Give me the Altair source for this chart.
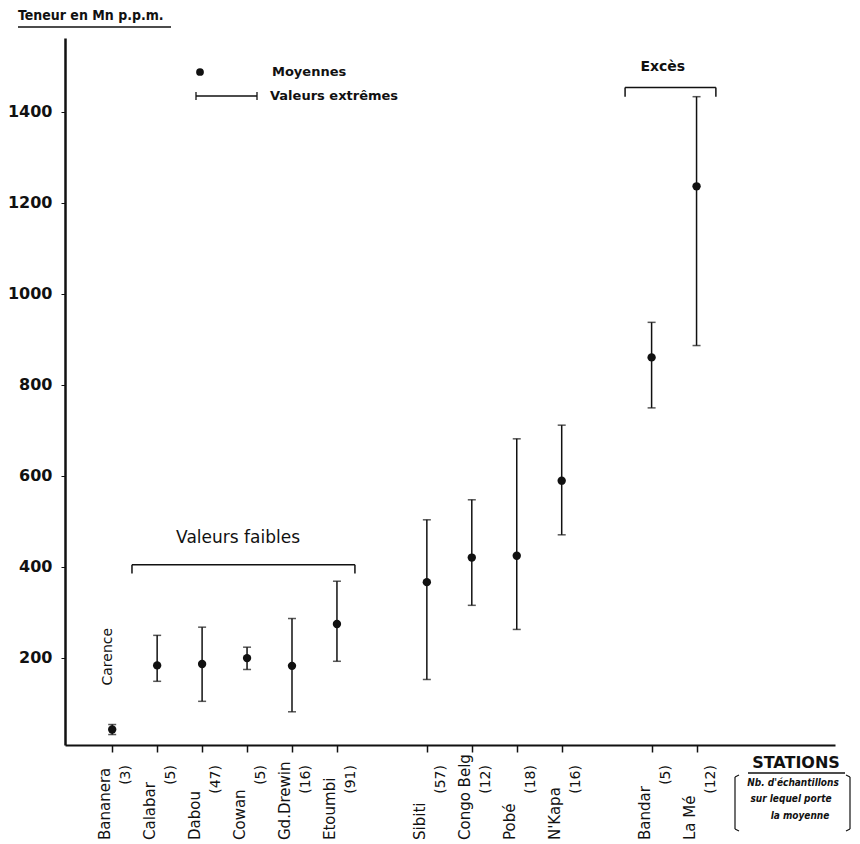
import altair as alt
import pandas as pd

# Manganese content (p.p.m.) by station: mean and extreme values
stations = ["Bananera", "Calabar", "Dabou", "Cowan", "Gd.Drewin", "Etoumbi",
            "Sibiti", "Congo Belg", "Pobé", "N'Kapa", "Bandar", "La Mé"]
counts = ["(3)", "(5)", "(47)", "(5)", "(16)", "(91)",
          "(57)", "(12)", "(18)", "(16)", "(5)", "(12)"]
groups = [0, 0, 0, 0, 0, 0, 1, 1, 1, 1, 2, 2]
means = [42, 183, 186, 199, 182, 274, 366, 420, 424, 589, 860, 1236]
mins = [31, 148, 104, 174, 81, 192, 152, 315, 262, 470, 749, 886]
maxs = [53, 249, 267, 223, 286, 368, 503, 547, 681, 711, 937, 1433]
y_ticks = [200, 400, 600, 800, 1000, 1200, 1400]

# one empty slot between station groups
slots = [i + g for i, g in enumerate(groups)]

df = pd.DataFrame({"station": stations, "n": counts, "slot": slots,
                   "mean": means, "min": mins, "max": maxs})

INK = "#111111"
W, H = 770, 707

x_scale = alt.Scale(domain=[-1.05, 16.08], nice=False, zero=False)
y_scale = alt.Scale(domain=[8, 1562], nice=False, zero=False)

x_axis = alt.Axis(values=slots, labels=False, title=None, grid=False,
                  tickSize=7, tickWidth=1.5, tickColor=INK,
                  domainColor=INK, domainWidth=2)
y_axis = alt.Axis(values=y_ticks, format="d", title=None, grid=False,
                  tickSize=4, tickWidth=1, tickColor=INK, domainColor=INK,
                  domainWidth=2.5, labelFont="DejaVu Sans", labelFontSize=16,
                  labelFontWeight="bold", labelColor=INK, labelPadding=9)

base = alt.Chart(df)
X = alt.X("slot:Q", scale=x_scale, axis=x_axis)

bars = base.mark_rule(color=INK, strokeWidth=1.5).encode(
    x=X, y=alt.Y("min:Q", scale=y_scale, axis=y_axis), y2="max:Q")
cap_lo = base.mark_tick(color=INK, orient="horizontal", size=8,
                        thickness=1.5).encode(x="slot:Q", y="min:Q")
cap_hi = base.mark_tick(color=INK, orient="horizontal", size=8,
                        thickness=1.5).encode(x="slot:Q", y="max:Q")
dots = base.mark_circle(color=INK, size=70, opacity=1).encode(
    x="slot:Q", y="mean:Q")

names = base.mark_text(angle=270, align="left", baseline="middle",
                       font="DejaVu Sans", fontSize=15, color=INK,
                       xOffset=-7).encode(
    x="slot:Q", y=alt.value(H + 95), text="station:N")
ns = base.mark_text(angle=270, align="right", baseline="middle",
                    font="DejaVu Sans", fontSize=14, color=INK,
                    xOffset=14).encode(
    x="slot:Q", y=alt.value(H + 20), text="n:N")

# group brackets (data coordinates)
brackets = pd.DataFrame({
    "x": [0.44, 0.44, 5.40, 11.41, 11.41, 13.43],
    "x2": [5.40, 0.44, 5.40, 13.43, 11.41, 13.43],
    "y": [404, 404, 404, 1453, 1453, 1453],
    "y2": [404, 385, 385, 1453, 1433, 1433],
})
bracket_marks = alt.Chart(brackets).mark_rule(color=INK, strokeWidth=1.5).encode(
    x="x:Q", x2="x2:Q", y="y:Q", y2="y2:Q")

group_text = pd.DataFrame({
    "x": [2.8, 12.25], "y": [464, 1499], "t": ["Valeurs faibles", "Excès"],
})
faibles = alt.Chart(group_text.iloc[[0]]).mark_text(
    font="DejaVu Sans", fontSize=17, color=INK).encode(
    x="x:Q", y="y:Q", text="t:N")
exces = alt.Chart(group_text.iloc[[1]]).mark_text(
    font="DejaVu Sans", fontSize=14, fontWeight="bold", color=INK).encode(
    x="x:Q", y="y:Q", text="t:N")
carence = alt.Chart(pd.DataFrame({"x": [-0.1], "y": [202], "t": ["Carence"]})).mark_text(
    angle=270, font="DejaVu Sans", fontSize=14, color=INK).encode(
    x="x:Q", y="y:Q", text="t:N")

# y-axis title, underlined
ytitle = alt.Chart(pd.DataFrame({"t": ["Teneur en Mn p.p.m."]})).mark_text(
    align="left", baseline="middle", font="DejaVu Sans Condensed",
    fontSize=14, fontWeight="bold", color=INK).encode(
    x=alt.value(-47), y=alt.value(-22), text="t:N")
ytitle_line = alt.Chart(pd.DataFrame({"a": [0]})).mark_rule(
    color=INK, strokeWidth=1.5).encode(
    x=alt.value(-47), x2=alt.value(106), y=alt.value(-11))

# legend
leg_dot = alt.Chart(pd.DataFrame({"a": [0]})).mark_circle(
    color=INK, size=60, opacity=1).encode(x=alt.value(135), y=alt.value(34))
leg_line = alt.Chart(pd.DataFrame({"x": [131, 131, 192], "x2": [192, 131, 192],
                                   "y": [58, 54, 54], "y2": [58, 62, 62]})).mark_rule(
    color=INK, strokeWidth=1.3).encode(
    x=alt.X("x:Q", scale=None), x2="x2:Q", y=alt.Y("y:Q", scale=None), y2="y2:Q")
leg_text = alt.Chart(pd.DataFrame({"x": [207, 205], "y": [34, 58],
                                   "t": ["Moyennes", "Valeurs extrêmes"]})).mark_text(
    align="left", baseline="middle", font="DejaVu Sans", fontSize=13,
    fontWeight="bold", color=INK).encode(
    x=alt.X("x:Q", scale=None), y=alt.Y("y:Q", scale=None), text="t:N")

# x-axis title block
stations_title = alt.Chart(pd.DataFrame({"t": ["STATIONS"]})).mark_text(
    font="DejaVu Sans", fontSize=16, fontWeight="bold", color=INK).encode(
    x=alt.value(731), y=alt.value(725), text="t:N")
stations_line = alt.Chart(pd.DataFrame({"a": [0]})).mark_rule(
    color=INK, strokeWidth=1.5).encode(
    x=alt.value(683), x2=alt.value(780), y=alt.value(735))
note = alt.Chart(pd.DataFrame({
    "x": [728, 726, 735], "y": [745, 761, 778],
    "t": ["Nb. d'échantillons", "sur lequel porte", "la moyenne"]})).mark_text(
    font="DejaVu Sans Condensed", fontSize=10, fontWeight="bold",
    fontStyle="italic", color=INK).encode(
    x=alt.X("x:Q", scale=None), y=alt.Y("y:Q", scale=None), text="t:N")
parens = alt.Chart(pd.DataFrame({
    "x": [670, 670, 670, 785, 785, 785],
    "x2": [670, 674, 674, 785, 781, 781],
    "y": [739, 739, 791, 739, 739, 791],
    "y2": [791, 737, 793, 791, 737, 793]})).mark_rule(
    color=INK, strokeWidth=1.2).encode(
    x=alt.X("x:Q", scale=None), x2="x2:Q", y=alt.Y("y:Q", scale=None), y2="y2:Q")

chart = alt.layer(
    bars, cap_lo, cap_hi, dots, names, ns, bracket_marks, faibles, exces,
    carence, ytitle, ytitle_line, leg_dot, leg_line, leg_text,
    stations_title, stations_line, note, parens,
).properties(
    width=W, height=H,
    padding={"left": 65, "top": 38, "right": 25, "bottom": 99},
    autosize=alt.AutoSizeParams(type="none"),
    background="white",
).configure_view(stroke=None)

chart.save("out.html", embed_options={"renderer": "svg", "actions": False})
